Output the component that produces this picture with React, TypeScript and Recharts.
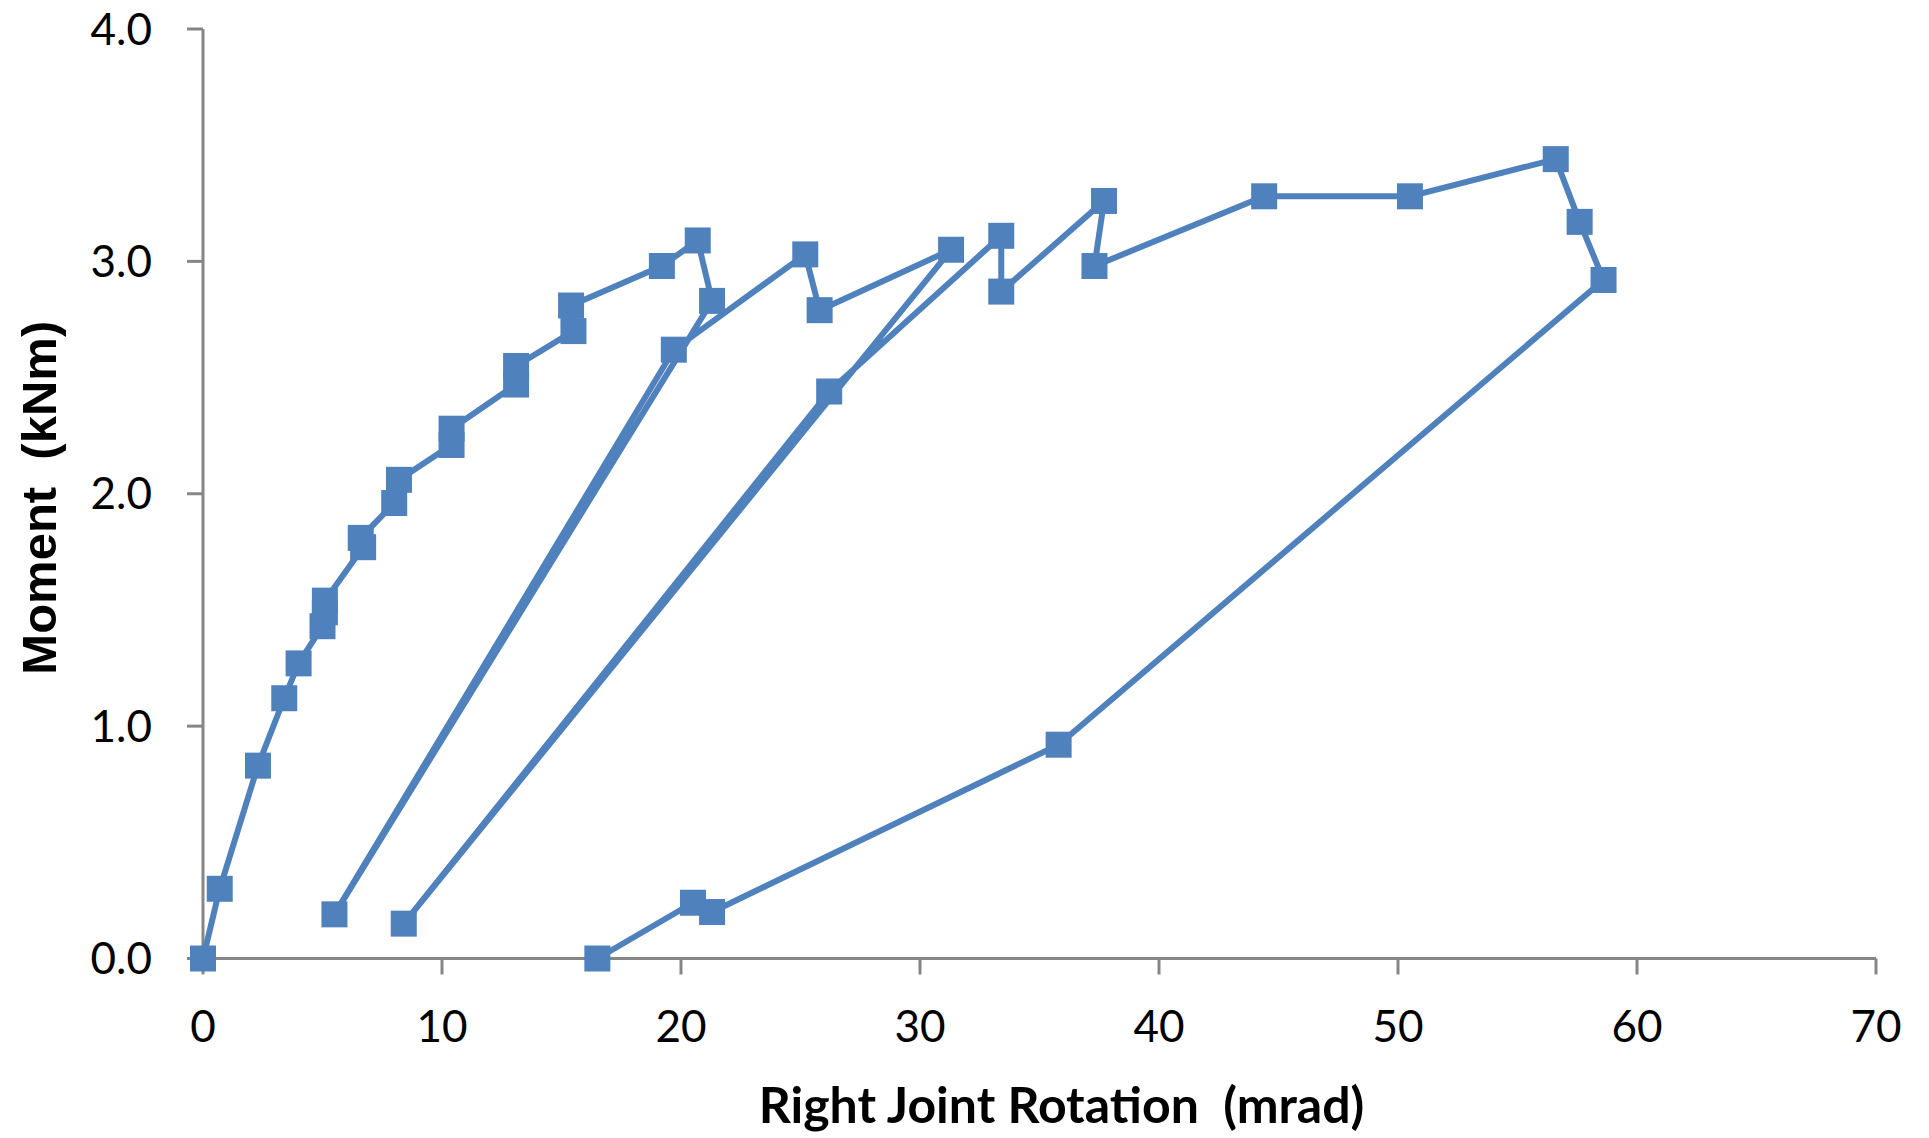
import React from 'react';
import { ScatterChart, Scatter, XAxis, YAxis, Label } from 'recharts';

// measured right joint rotation (mrad), in loading order
const rotation = [
  0, 0.7, 2.3, 3.4, 4.0, 5.0, 5.1, 5.1, 6.7, 6.6, 8.0, 8.2, 10.4, 10.4, 13.1, 13.1,
  15.5, 15.4, 19.2, 20.7, 21.3, 5.5, 19.7, 25.2, 25.8, 31.3, 8.4, 26.2, 33.4, 33.4,
  37.7, 37.3, 44.4, 50.5, 56.6, 57.6, 58.6, 35.8, 21.3, 20.5, 16.5,
];

// moment (kNm) for each rotation reading
const moment = [
  0, 0.30, 0.83, 1.12, 1.27, 1.43, 1.49, 1.54, 1.77, 1.81, 1.96, 2.06, 2.21, 2.28, 2.47, 2.55,
  2.70, 2.81, 2.98, 3.09, 2.83, 0.19, 2.62, 3.03, 2.79, 3.05, 0.15, 2.44, 3.11, 2.87,
  3.26, 2.98, 3.28, 3.28, 3.44, 3.17, 2.92, 0.92, 0.20, 0.24, 0.0,
];

const xTicks = [0, 10, 20, 30, 40, 50, 60, 70];
const yTicks = [0, 1, 2, 3, 4];

const data = rotation.map((x, i) => ({ x, y: moment[i] }));

const BLUE = '#4F81BD';
const AXIS = '#868686';

const SquareMarker = (props: any) => {
  const { cx, cy } = props;
  if (cx == null || cy == null) return null;
  return <rect x={cx - 13} y={cy - 13} width={26} height={26} fill={BLUE} />;
};

const XTitle = (props: any) => {
  const vb = props.viewBox || { x: 203, y: 958.5, width: 1673, height: 179.5 };
  const cx = vb.x + vb.width / 2 + 22;
  const cy = vb.y + vb.height - 15;
  return (
    <text
      x={cx}
      y={cy}
      textAnchor="middle"
      fontFamily="Lato, 'Noto Sans', sans-serif"
      fontWeight="bold"
      fontSize={50}
      fill="#000"
      style={{ whiteSpace: 'pre' }}
    >
      Right Joint Rotation  (mrad)
    </text>
  );
};

const YTitle = (props: any) => {
  const vb = props.viewBox || { x: 0, y: 29, width: 203, height: 929.5 };
  const cx = vb.x + 39;
  const cy = vb.y + vb.height / 2 + 4;
  return (
    <text
      x={cx}
      y={cy}
      transform={`rotate(-90, ${cx}, ${cy})`}
      textAnchor="middle"
      dominantBaseline="central"
      fontFamily="'Liberation Sans', Arial, sans-serif"
      fontWeight="bold"
      fontSize={49}
      fill="#000"
      style={{ whiteSpace: 'pre' }}
    >
      Moment  (kNm)
    </text>
  );
};

const tickStyle = { fontSize: 44, fill: '#000', fontFamily: "Lato, 'Noto Sans', sans-serif" };

const App: React.FC = () => {
  return (
    <div style={{ width: 1929, height: 1138, background: '#fff' }}>
      <style>{'body{margin:0;}'}</style>
      <ScatterChart
        width={1929}
        height={1138}
        margin={{ top: 29, right: 53, bottom: 0, left: 0 }}
      >
        <XAxis
          type="number"
          dataKey="x"
          domain={[0, 70]}
          ticks={xTicks}
          interval={0}
          height={179.5}
          tickSize={16}
          tickMargin={36}
          axisLine={{ stroke: AXIS, strokeWidth: 3 }}
          tickLine={{ stroke: AXIS, strokeWidth: 3 }}
          tick={tickStyle}
        >
          <Label content={<XTitle />} />
        </XAxis>
        <YAxis
          type="number"
          dataKey="y"
          domain={[0, 4]}
          ticks={yTicks}
          interval={0}
          width={203}
          tickSize={16}
          tickMargin={35}
          tickFormatter={(v: number) => v.toFixed(1)}
          axisLine={{ stroke: AXIS, strokeWidth: 3 }}
          tickLine={{ stroke: AXIS, strokeWidth: 3 }}
          tick={tickStyle}
        >
          <Label content={<YTitle />} />
        </YAxis>
        <Scatter
          data={data}
          line={{ stroke: BLUE, strokeWidth: 6, strokeLinejoin: 'round' }}
          lineType="joint"
          shape={<SquareMarker />}
          isAnimationActive={false}
        />
      </ScatterChart>
    </div>
  );
};

export default App;
